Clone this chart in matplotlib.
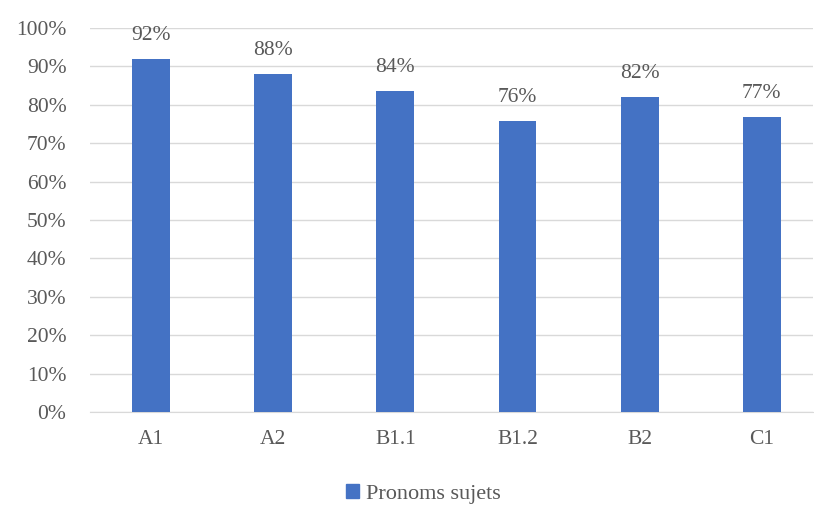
import matplotlib
matplotlib.use("Agg")
import matplotlib.pyplot as plt
from matplotlib.patches import Patch

levels = ["A1", "A2", "B1.1", "B1.2", "B2", "C1"]
values = [0.92, 0.88, 0.836, 0.759, 0.821, 0.769]
series_name = "Pronoms sujets"

plt.rcParams["font.family"] = ["Liberation Serif", "DejaVu Serif"]
text_color = "#595959"
bar_color = "#4472C4"
fs = 15.5

fig = plt.figure(figsize=(8.14, 5.09), dpi=100)
ax = fig.add_axes([90 / 814, 1 - 412 / 509, 723 / 814, 384 / 509])

x = range(len(levels))
bars = ax.bar(x, values, width=0.31, color=bar_color, zorder=3)

for b, v in zip(bars, values):
    ax.annotate(f"{v:.0%}", (b.get_x() + b.get_width() / 2, v),
                xytext=(0, 10), textcoords="offset points",
                ha="center", va="bottom", fontsize=fs, color=text_color)

ax.set_xlim(-0.5, 5.42)
ax.set_ylim(0, 1)
ax.set_yticks([i / 10 for i in range(11)])
ax.set_yticklabels([f"{i * 10}%" for i in range(11)])
ax.set_xticks(list(x))
ax.set_xticklabels(levels)
ax.tick_params(axis="both", length=0, labelsize=fs, labelcolor=text_color)
ax.tick_params(axis="y", pad=17)
ax.tick_params(axis="x", pad=13)
ax.grid(axis="y", color="#D9D9D9", linewidth=1, zorder=0)
for s in ["top", "right", "left"]:
    ax.spines[s].set_visible(False)
ax.spines["bottom"].set_color("#D9D9D9")

fig.legend(handles=[Patch(color=bar_color, label=series_name)],
           loc="center", bbox_to_anchor=(0.52, 0.03), frameon=False,
           fontsize=16, labelcolor=text_color, handlelength=0.6,
           handleheight=0.6, handletextpad=0.3)

fig.savefig("out.png", dpi=100)
